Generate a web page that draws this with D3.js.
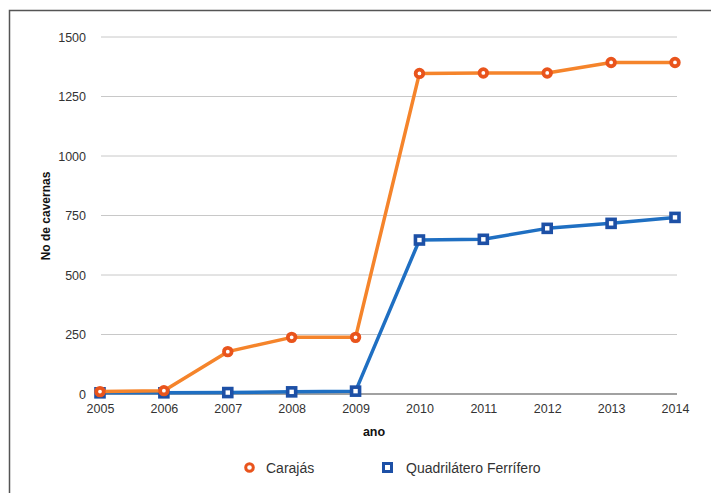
<!DOCTYPE html>
<html>
<head>
<meta charset="utf-8">
<script src="https://cdn.jsdelivr.net/npm/d3@7"></script>
<style>
  html, body { margin: 0; padding: 0; background: #fff; }
  svg { display: block; font-family: "Liberation Sans", Arial, Helvetica, sans-serif; }
</style>
</head>
<body>
<svg id="chart" width="711" height="493"></svg>
<script>
// Número de cavernas registradas por ano
const years = [2005, 2006, 2007, 2008, 2009, 2010, 2011, 2012, 2013, 2014];
const carajas = [10, 14, 178, 238, 238, 1347, 1349, 1349, 1393, 1393];
const quadrilatero = [5, 5, 6, 9, 12, 647, 650, 696, 717, 742];
const yTicks = [0, 250, 500, 750, 1000, 1250, 1500];
const seriesNames = ["Carajás", "Quadrilátero Ferrífero"];

const svg = d3.select("#chart");

// frame
svg.append("path")
  .attr("d", "M9.5,493 V10.5 H711")
  .attr("fill", "none")
  .attr("stroke", "#555")
  .attr("stroke-width", 1.5);

const x = d3.scalePoint().domain(years).range([100, 675]);
const y = d3.scaleLinear().domain([0, 1500]).range([394, 37]);

// horizontal grid
svg.append("g")
  .selectAll("line")
  .data(yTicks.filter(d => d > 0))
  .join("line")
  .attr("x1", 101).attr("x2", 677)
  .attr("y1", d => y(d)).attr("y2", d => y(d))
  .attr("stroke", "#c8c8c8")
  .attr("stroke-width", 1);

// y axis labels
const yAxis = d3.axisLeft(y).tickValues(yTicks).tickFormat(d3.format("d")).tickSize(0).tickPadding(0);
const gy = svg.append("g").attr("transform", "translate(86,0)").call(yAxis);
gy.select(".domain").remove();
gy.selectAll("text")
  .attr("font-size", 12.5).attr("fill", "#333")
  .attr("font-family", "Liberation Sans, Arial, sans-serif")
  .attr("dy", "0.35em");

// x axis
const xAxis = d3.axisBottom(x).tickFormat(d3.format("d")).tickSize(0).tickPadding(0);
const gx = svg.append("g").attr("transform", "translate(0,394)").call(xAxis);
gx.select(".domain").remove();
gx.selectAll("text")
  .attr("font-size", 12.5).attr("fill", "#333")
  .attr("font-family", "Liberation Sans, Arial, sans-serif")
  .attr("y", 19).attr("dy", 0);
svg.append("line")
  .attr("x1", 100).attr("x2", 677)
  .attr("y1", y(0)).attr("y2", y(0))
  .attr("stroke", "#444").attr("stroke-width", 1.2);

// axis titles
svg.append("text")
  .attr("x", 374).attr("y", 436)
  .attr("text-anchor", "middle")
  .attr("font-size", 12.5).attr("font-weight", "bold").attr("fill", "#111")
  .text("ano");
svg.append("text")
  .attr("transform", "translate(50,216) rotate(-90)")
  .attr("text-anchor", "middle")
  .attr("font-size", 12).attr("font-weight", "bold").attr("fill", "#111")
  .text("No de cavernas");

const line = d3.line().x((d, i) => x(years[i])).y(d => y(d));

const orangeLine = "#f5842b", orangeMark = "#e9541c";
const blueLine = "#1f6fc2", blueMark = "#1d50a6";

// Quadrilátero Ferrífero
svg.append("path")
  .datum(quadrilatero)
  .attr("d", line)
  .attr("fill", "none")
  .attr("stroke", blueLine)
  .attr("stroke-width", 3.5)
  .attr("stroke-linejoin", "round");
svg.append("g").selectAll("rect")
  .data(quadrilatero)
  .join("rect")
  .attr("x", (d, i) => x(years[i]) - 4)
  .attr("y", d => y(d) - 4)
  .attr("width", 8).attr("height", 8)
  .attr("fill", "#fff")
  .attr("stroke", blueMark)
  .attr("stroke-width", 3.6);

// Carajás
svg.append("path")
  .datum(carajas)
  .attr("d", line)
  .attr("fill", "none")
  .attr("stroke", orangeLine)
  .attr("stroke-width", 3.5)
  .attr("stroke-linejoin", "round");
svg.append("g").selectAll("circle")
  .data(carajas)
  .join("circle")
  .attr("cx", (d, i) => x(years[i]))
  .attr("cy", d => y(d))
  .attr("r", 3.8)
  .attr("fill", "#fff")
  .attr("stroke", orangeMark)
  .attr("stroke-width", 3.8);

// legend
const legend = svg.append("g");
legend.append("circle")
  .attr("cx", 249.5).attr("cy", 467.5).attr("r", 3.8)
  .attr("fill", "#fff").attr("stroke", orangeMark).attr("stroke-width", 3);
legend.append("text")
  .attr("x", 266).attr("y", 472.5)
  .attr("font-size", 14).attr("fill", "#333")
  .text(seriesNames[0]);
legend.append("rect")
  .attr("x", 383.5).attr("y", 463.5).attr("width", 8).attr("height", 8)
  .attr("fill", "#fff").attr("stroke", blueMark).attr("stroke-width", 3);
legend.append("text")
  .attr("x", 406).attr("y", 472.5)
  .attr("font-size", 14).attr("fill", "#333")
  .text(seriesNames[1]);
</script>
</body>
</html>
